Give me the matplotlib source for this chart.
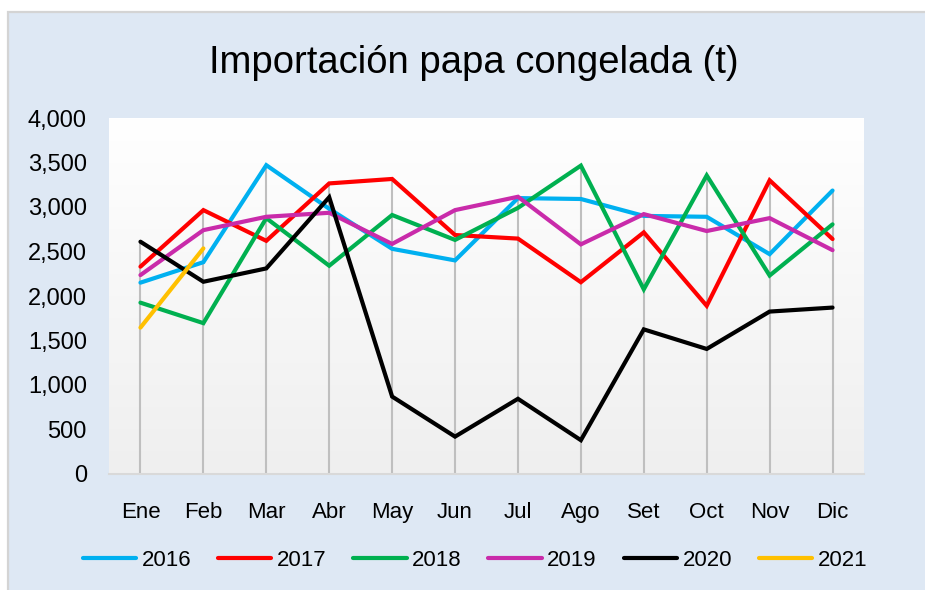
"""Importación papa congelada (t): monthly lines per year, Excel-style chart."""

import numpy as np
import matplotlib
matplotlib.use("Agg")
import matplotlib.pyplot as plt
from matplotlib.colors import LinearSegmentedColormap
from matplotlib.patches import Rectangle
from matplotlib.ticker import FuncFormatter

# --- Data --------------------------------------------------------------------

MONTHS = ["Ene", "Feb", "Mar", "Abr", "May", "Jun",
          "Jul", "Ago", "Set", "Oct", "Nov", "Dic"]

Y2016 = [2150, 2380, 3470, 2980, 2530, 2400, 3100, 3090, 2900, 2890, 2470, 3185]
Y2017 = [2330, 2965, 2620, 3265, 3315, 2685, 2645, 2155, 2715, 1890, 3300, 2640]
Y2018 = [1925, 1695, 2875, 2340, 2910, 2630, 2990, 3465, 2075, 3355, 2230, 2805]
Y2019 = [2235, 2740, 2890, 2935, 2585, 2965, 3115, 2580, 2920, 2730, 2875, 2515]
Y2020 = [2610, 2160, 2310, 3110, 870, 420, 845, 380, 1625, 1405, 1825, 1870]
Y2021 = [1645, 2535]

YEARS = ["2016", "2017", "2018", "2019", "2020", "2021"]
SERIES = [Y2016, Y2017, Y2018, Y2019, Y2020, Y2021]
COLORS = ["#00B0F0", "#FF0000", "#00B050", "#C92BAA", "#000000", "#FFC000"]

Y_TICKS = [0, 500, 1000, 1500, 2000, 2500, 3000, 3500, 4000]

# --- Style -------------------------------------------------------------------

W, H = 925, 590
BG = "#DEE8F4"
FONT = ["Liberation Sans", "Arial", "DejaVu Sans"]


def main():
    fig = plt.figure(figsize=(W / 100, H / 100), dpi=100)
    fig.patch.set_facecolor("white")
    # chart frame: starts a few px in, runs off the right/bottom edges
    fig.patches.append(Rectangle((8 / W, -0.05), 1.1, 1.05 - 12 / H,
                                 transform=fig.transFigure, facecolor=BG,
                                 edgecolor="#D4D4D4", lw=1.6, zorder=-5))

    ax = fig.add_axes([109 / W, 1 - 474 / H, (864 - 109) / W, (474 - 118) / H])
    x = np.arange(len(MONTHS))

    # plot-area gradient: white at top to light gray at bottom
    cmap = LinearSegmentedColormap.from_list("plotbg", ["#EFEFEF", "#FFFFFF"])
    ax.imshow(np.linspace(0, 1, 256).reshape(-1, 1), cmap=cmap, origin="lower",
              extent=[0, 1, 0, 1], transform=ax.transAxes, aspect="auto",
              zorder=0)

    # Excel drop lines: from the highest series value down to the axis
    tops = [max(s[i] for s in SERIES if i < len(s)) for i in range(len(MONTHS))]
    ax.vlines(x, 0, tops, color="#BFBFBF", lw=1.5, zorder=1)

    for name, vals, col in zip(YEARS, SERIES, COLORS):
        ax.plot(x[:len(vals)], vals, color=col, lw=3.0, label=name,
                solid_joinstyle="miter", solid_capstyle="round", zorder=3)

    ax.set_xlim(-0.5, len(MONTHS) - 0.5)
    ax.set_ylim(0, 4000)
    ax.set_xticks(x, MONTHS)
    ax.set_yticks(Y_TICKS)
    ax.yaxis.set_major_formatter(FuncFormatter(lambda v, _: f"{v:,.0f}"))
    ax.tick_params(length=0)
    ax.tick_params(axis="y", pad=16, labelsize=17)
    ax.tick_params(axis="x", pad=20, labelsize=16)
    for lab in ax.get_xticklabels() + ax.get_yticklabels():
        lab.set_family(FONT)

    for side in ("left", "right", "top"):
        ax.spines[side].set_visible(False)
    ax.spines["bottom"].set_color("#D9D9D9")
    ax.spines["bottom"].set_linewidth(1.5)

    fig.text(474 / W, 1 - 63 / H, "Importación papa congelada (t)",
             ha="center", va="center", fontsize=27.5, family=FONT)

    fig.legend(loc="center", bbox_to_anchor=(475 / W, 1 - 560 / H), ncol=6,
               frameon=False, prop={"family": FONT, "size": 16},
               handlelength=2.4, handletextpad=0.25, columnspacing=1.2,
               borderaxespad=0)

    fig.savefig("out.png", dpi=100, facecolor=fig.get_facecolor())


if __name__ == "__main__":
    main()
